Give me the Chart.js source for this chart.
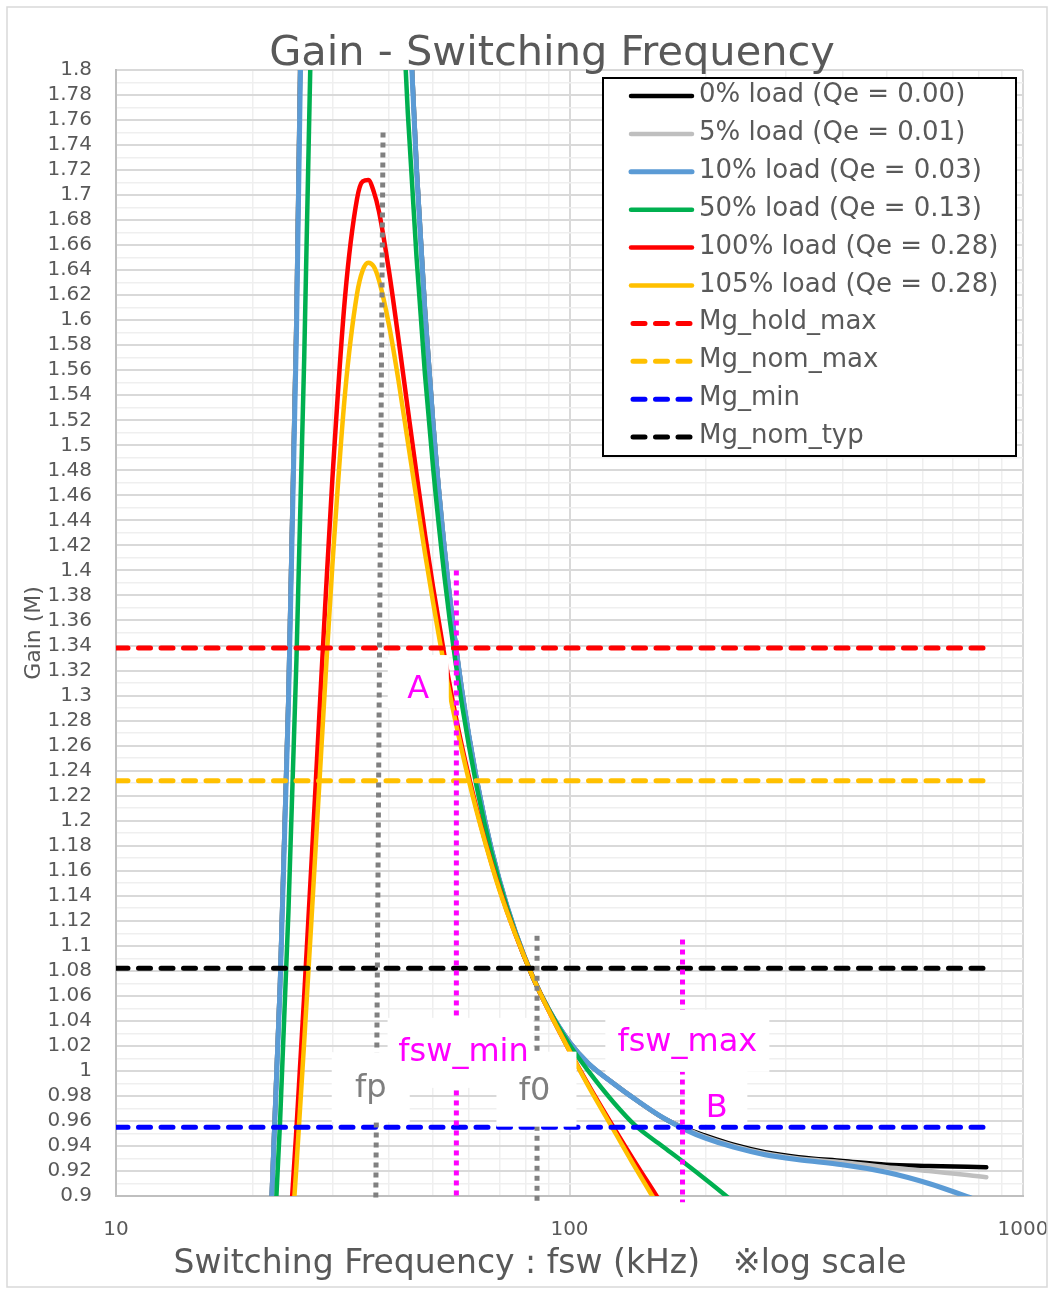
<!DOCTYPE html>
<html>
<head>
<meta charset="utf-8">
<title>Gain - Switching Frequency</title>
<script src="https://cdn.jsdelivr.net/npm/chart.js@4.4.1/dist/chart.umd.min.js"></script>
<style>
  html, body { margin: 0; padding: 0; background: #ffffff; }
  canvas { display: block; }
</style>
</head>
<body>
<canvas id="chart" width="1054" height="1293"></canvas>
<script>
// Switching frequency samples (kHz)
const freqKHz = [20, 21, 22, 23, 24, 25, 26, 27, 28, 29, 30, 32, 34, 35, 36, 37, 38, 40, 42, 44, 46, 48, 50,
  53, 56, 60, 65, 70, 76, 83, 90, 100, 110, 125, 140, 160, 180, 200, 230, 270, 320, 400, 500, 620, 830];

// Gain M for each load condition
const gainLoad0 = [0.631, 0.748, 0.892, 1.071, 1.300, 1.604, 2.021, 2.633, 3.609, 5.414, 9.855, 23.67, 6.198, 4.686,
  3.829, 3.278, 2.893, 2.394, 2.084, 1.874, 1.723, 1.609, 1.520, 1.418, 1.343, 1.268, 1.201, 1.153, 1.111, 1.075,
  1.049, 1.023, 1.006, 0.990, 0.977, 0.963, 0.954, 0.948, 0.941, 0.935, 0.931, 0.928, 0.925, 0.924, 0.923];
const gainLoad5 = [0.631, 0.748, 0.891, 1.070, 1.298, 1.600, 2.015, 2.619, 3.578, 5.319, 9.357, 19.13, 6.105, 4.649,
  3.810, 3.267, 2.886, 2.390, 2.082, 1.873, 1.722, 1.608, 1.519, 1.418, 1.343, 1.268, 1.201, 1.153, 1.111, 1.075,
  1.049, 1.023, 1.006, 0.990, 0.977, 0.963, 0.954, 0.947, 0.940, 0.934, 0.930, 0.927, 0.923, 0.920, 0.915];
const gainLoad10 = [0.630, 0.746, 0.888, 1.066, 1.292, 1.589, 1.995, 2.581, 3.489, 5.061, 8.219, 13.38, 5.848, 4.541,
  3.755, 3.234, 2.866, 2.380, 2.077, 1.869, 1.720, 1.606, 1.518, 1.417, 1.342, 1.268, 1.201, 1.153, 1.111, 1.075,
  1.049, 1.023, 1.006, 0.990, 0.977, 0.963, 0.953, 0.946, 0.939, 0.933, 0.929, 0.925, 0.919, 0.910, 0.894];
const gainLoad50 = [0.597, 0.698, 0.817, 0.959, 1.127, 1.329, 1.569, 1.853, 2.176, 2.523, 2.852, 3.215, 3.066, 2.892,
  2.708, 2.532, 2.374, 2.113, 1.916, 1.766, 1.650, 1.557, 1.483, 1.395, 1.328, 1.260, 1.197, 1.151, 1.110, 1.075,
  1.049, 1.021, 1.000, 0.975, 0.956, 0.940, 0.926, 0.913, 0.895, 0.872, 0.843, 0.796, 0.738, 0.671, 0.570];
const gainLoad100 = [0.520, 0.592, 0.672, 0.759, 0.853, 0.954, 1.060, 1.168, 1.276, 1.379, 1.473, 1.619, 1.697, 1.711,
  1.712, 1.703, 1.687, 1.639, 1.584, 1.529, 1.477, 1.429, 1.387, 1.332, 1.285, 1.235, 1.185, 1.146, 1.109, 1.075,
  1.048, 1.016, 0.989, 0.955, 0.926, 0.893, 0.862, 0.833, 0.792, 0.740, 0.680, 0.596, 0.510, 0.432, 0.337];
const gainLoad105 = [0.511, 0.581, 0.657, 0.740, 0.829, 0.924, 1.023, 1.123, 1.222, 1.317, 1.404, 1.542, 1.621, 1.640,
  1.646, 1.643, 1.632, 1.596, 1.551, 1.503, 1.457, 1.414, 1.375, 1.323, 1.280, 1.232, 1.184, 1.145, 1.109, 1.075,
  1.048, 1.016, 0.988, 0.953, 0.922, 0.887, 0.855, 0.825, 0.782, 0.727, 0.664, 0.578, 0.493, 0.416, 0.323];

const curveLabels = ['0% load (Qe = 0.00)', '5% load (Qe = 0.01)', '10% load (Qe = 0.03)',
  '50% load (Qe = 0.13)', '100% load (Qe = 0.28)', '105% load (Qe = 0.28)'];

// Gain limits (horizontal reference lines) and their frequency span
const limitLabels = ['Mg_hold_max', 'Mg_nom_max', 'Mg_min', 'Mg_nom_typ'];
const limitGains = [1.338, 1.232, 0.955, 1.082];
const limitSpanKHz = [10, 830];

// Frequency markers: x at the top and bottom end, gain at the top and bottom end
const markerNames = ['fp', 'f0', 'fsw_min', 'fsw_max'];
const markerFreqTop = [38.8, 84.8, 56.3, 177.5];
const markerFreqBottom = [37.4, 84.8, 56.3, 177.5];
const markerGainTop = [1.75, 1.108, 1.40, 1.105];
const markerGainBottom = [0.896, 0.896, 0.897, 0.895];

// Axis ticks
const xTickValues = [10, 20, 30, 40, 50, 60, 70, 80, 90, 100, 200, 300, 400, 500, 600, 700, 800, 900, 1000];
const xTickLabels = { 10: '10', 100: '100', 1000: '1000' };
const yMin = 0.9, yMax = 1.8, yStep = 0.01;

const FONT = '"DejaVu Sans", "Noto Sans CJK JP", sans-serif';
const TEXT_GRAY = '#595959';

const toPoints = (xs, ys) => xs.map((x, i) => ({ x: x, y: ys[i] }));

const curveStyles = [
  { color: '#000000', width: 4.5 },
  { color: '#bfbfbf', width: 4.5 },
  { color: '#5b9bd5', width: 5 },
  { color: '#00b050', width: 4.5 },
  { color: '#ff0000', width: 4.5 },
  { color: '#ffc000', width: 4.5 }
];
const limitColors = ['#ff0000', '#ffc000', '#0000ff', '#000000'];
const markerColors = ['#808080', '#808080', '#ff00ff', '#ff00ff'];

const curveGains = [gainLoad0, gainLoad5, gainLoad10, gainLoad50, gainLoad100, gainLoad105];

const datasets = [];
curveGains.forEach((g, i) => {
  datasets.push({
    label: curveLabels[i],
    data: toPoints(freqKHz, g),
    borderColor: curveStyles[i].color,
    borderWidth: curveStyles[i].width,
    cubicInterpolationMode: 'monotone',
    borderCapStyle: 'round',
    borderJoinStyle: 'round',
    pointRadius: 0,
    fill: false,
    inLegend: true
  });
});
limitGains.forEach((g, i) => {
  datasets.push({
    label: limitLabels[i],
    data: toPoints(limitSpanKHz, [g, g]),
    borderColor: limitColors[i],
    borderWidth: 5,
    borderDash: [12, 10.5],
    borderCapStyle: 'round',
    pointRadius: 0,
    fill: false,
    inLegend: true
  });
});
markerNames.forEach((name, i) => {
  datasets.push({
    label: name,
    data: toPoints([markerFreqTop[i], markerFreqBottom[i]], [markerGainTop[i], markerGainBottom[i]]),
    borderColor: markerColors[i],
    borderWidth: 5,
    borderDash: [5, 5],
    borderCapStyle: 'butt',
    pointRadius: 0,
    fill: false,
    clip: false,
    inLegend: false
  });
});
// later series are painted over earlier ones
datasets.forEach((d, i) => { d.order = datasets.length - i; });

// Text boxes placed on the plot: anchor = text centre / baseline in data units,
// box = [left, top, right, bottom] offsets in px from that anchor
const notes = [
  { text: 'fsw_min', x: 58.4, y: 1.008, color: '#ff00ff', box: [-76, -43, 70, 27] },
  { text: 'fp', x: 36.45, y: 0.979, color: '#7f7f7f', box: [-39, -45, 39, 25] },
  { text: 'f0', x: 83.7, y: 0.977, color: '#7f7f7f', box: [-38, -48, 42, 27] },
  { text: 'fsw_max', x: 181.9, y: 1.016, color: '#ff00ff', box: [-82, -41, 82, 21] },
  { text: 'B', x: 211.3, y: 0.963, color: '#ff00ff', box: [-32, -49, 30.5, 7] },
  { text: 'A', x: 46.4, y: 1.298, color: '#ff00ff', box: [-30.5, -43, 30.5, 10] }
];

const decorations = {
  id: 'decorations',
  afterDatasetsDraw(chart) {
    const ctx = chart.ctx;
    const xs = chart.scales.x, ys = chart.scales.y;
    ctx.save();
    // annotation boxes
    notes.forEach(n => {
      const px = xs.getPixelForValue(n.x);
      const py = ys.getPixelForValue(n.y);
      ctx.fillStyle = '#ffffff';
      ctx.fillRect(px + n.box[0], py + n.box[1], n.box[2] - n.box[0], n.box[3] - n.box[1]);
    });
    notes.forEach(n => {
      const px = xs.getPixelForValue(n.x);
      const py = ys.getPixelForValue(n.y);
      ctx.fillStyle = n.color;
      ctx.font = '32px ' + FONT;
      ctx.textAlign = 'center';
      ctx.textBaseline = 'alphabetic';
      ctx.fillText(n.text, px, py);
    });

    // legend
    const lg = { left: 603, top: 78, right: 1016, bottom: 456, firstRow: 96, rowGap: 37.9,
      lineX1: 631, lineX2: 692, textX: 699 };
    ctx.fillStyle = '#ffffff';
    ctx.fillRect(lg.left, lg.top, lg.right - lg.left, lg.bottom - lg.top);
    ctx.lineWidth = 2;
    ctx.strokeStyle = '#000000';
    ctx.setLineDash([]);
    ctx.strokeRect(lg.left, lg.top, lg.right - lg.left, lg.bottom - lg.top);
    let row = 0;
    chart.data.datasets.forEach(ds => {
      if (!ds.inLegend) return;
      const y = lg.firstRow + row * lg.rowGap;
      ctx.beginPath();
      ctx.setLineDash(ds.borderDash || []);
      ctx.lineCap = 'round';
      ctx.lineWidth = ds.borderWidth;
      ctx.strokeStyle = ds.borderColor;
      ctx.moveTo(ds.borderDash ? lg.lineX1 + 2 : lg.lineX1, y);
      ctx.lineTo(lg.lineX2, y);
      ctx.stroke();
      ctx.setLineDash([]);
      ctx.fillStyle = TEXT_GRAY;
      ctx.font = '26px ' + FONT;
      ctx.textAlign = 'left';
      ctx.textBaseline = 'alphabetic';
      ctx.fillText(ds.label, lg.textX, y + 6);
      row++;
    });
    ctx.restore();
  },
  afterDraw(chart) {
    const ctx = chart.ctx;
    const area = chart.chartArea;
    ctx.save();
    // chart title
    ctx.fillStyle = TEXT_GRAY;
    ctx.font = '41.5px ' + FONT;
    ctx.textAlign = 'center';
    ctx.textBaseline = 'alphabetic';
    ctx.fillText('Gain - Switching Frequency', 552, 65);
    // x axis title
    ctx.font = '33px ' + FONT;
    ctx.fillText('Switching Frequency : fsw (kHz)\u3000\u203blog scale', 540, 1273);
    // y axis title
    ctx.translate(34, (area.top + area.bottom) / 2);
    ctx.rotate(-Math.PI / 2);
    ctx.font = '22px ' + FONT;
    ctx.textBaseline = 'middle';
    ctx.fillText('Gain (M)', 0, 0);
    ctx.restore();
    // outer frame
    ctx.save();
    ctx.strokeStyle = '#d9d9d9';
    ctx.lineWidth = 1.5;
    ctx.strokeRect(7, 7, 1040, 1280);
    ctx.restore();
  }
};

const isMajorY = v => Math.round(v * 100) % 2 === 0;

new Chart(document.getElementById('chart'), {
  type: 'line',
  data: { datasets: datasets },
  plugins: [decorations],
  options: {
    responsive: false,
    animation: false,
    devicePixelRatio: 1,
    events: [],
    layout: { padding: { left: 0, top: 70, right: 31, bottom: 0 } },
    plugins: { legend: { display: false }, tooltip: { enabled: false }, title: { display: false } },
    scales: {
      x: {
        type: 'logarithmic',
        min: 10,
        max: 1000,
        afterBuildTicks: s => { s.ticks = xTickValues.map(v => ({ value: v })); },
        afterFit: s => { s.height = 97; s.paddingLeft = 0; s.paddingRight = 0; },
        ticks: {
          autoSkip: false,
          maxRotation: 0,
          padding: 22,
          color: TEXT_GRAY,
          font: { family: FONT, size: 20 },
          callback: v => xTickLabels[v] || ''
        },
        grid: {
          drawTicks: false,
          color: c => (xTickLabels[c.tick.value] ? '#d9d9d9' : '#efefef'),
          lineWidth: c => (xTickLabels[c.tick.value] ? 2 : 1.5)
        },
        border: { color: '#bfbfbf', width: 2 }
      },
      y: {
        type: 'linear',
        min: yMin,
        max: yMax,
        afterBuildTicks: s => {
          const t = [];
          const n = Math.round((yMax - yMin) / yStep);
          for (let i = 0; i <= n; i++) t.push({ value: Math.round((yMin + i * yStep) * 100) / 100 });
          s.ticks = t;
        },
        afterFit: s => { s.width = 116; s.paddingTop = 0; s.paddingBottom = 0; },
        ticks: {
          autoSkip: false,
          padding: 24,
          color: TEXT_GRAY,
          font: { family: FONT, size: 20 },
          callback: v => (isMajorY(v) ? String(Math.round(v * 100) / 100) : '')
        },
        grid: {
          drawTicks: false,
          color: c => (isMajorY(c.tick.value) ? '#d9d9d9' : '#efefef'),
          lineWidth: c => (isMajorY(c.tick.value) ? 2 : 1.5)
        },
        border: { color: '#bfbfbf', width: 2 }
      }
    }
  }
});
</script>
</body>
</html>
